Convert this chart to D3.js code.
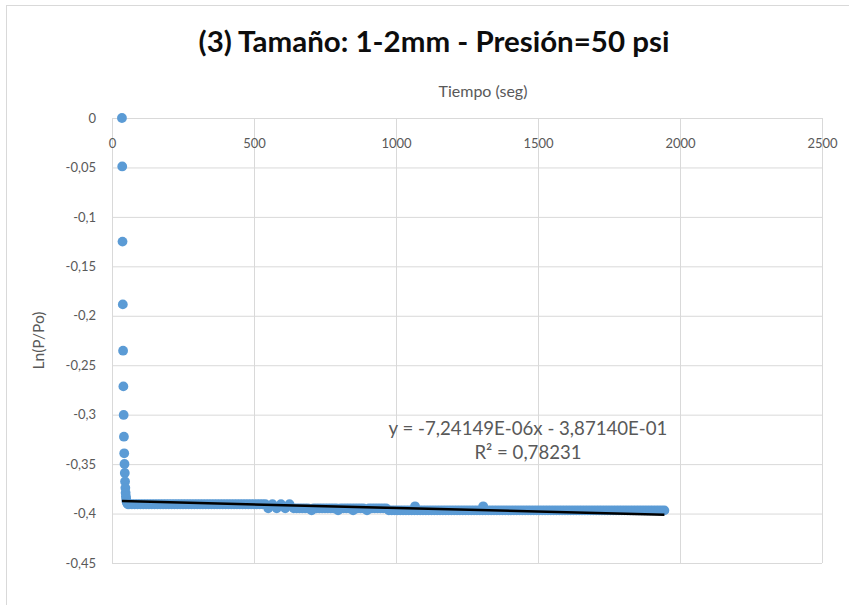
<!DOCTYPE html>
<html>
<head>
<meta charset="utf-8">
<script src="https://cdn.jsdelivr.net/npm/d3@7"></script>
<style>
  html, body { margin: 0; padding: 0; background: #fff; }
  svg { display: block; font-family: Lato, "Open Sans", sans-serif; }
</style>
</head>
<body>
<div id="chart"></div>
<script>
// caída inicial de presión: [tiempo (seg), Ln(P/Po)]
const caida = [
  [35, 0], [36, -0.049], [37, -0.125], [38, -0.1885], [39, -0.2353],
  [40, -0.2714], [41, -0.3003], [42, -0.3223], [43, -0.3391], [44, -0.3499],
  [45, -0.359], [46, -0.3675], [47, -0.374], [48, -0.379], [49, -0.3826],
  [50, -0.3852], [51, -0.3872], [52, -0.3886], [54, -0.3896], [56, -0.3906]
];

// meseta: tiempos (seg) registrados en cada nivel de Ln(P/Po)
const niveles = [-0.3906, -0.3927, -0.3947, -0.3968];
const t3906 = [
  60, 70, 80, 90, 100, 110, 120, 130, 140, 150, 160, 170, 180, 190, 200,
  210, 220, 230, 240, 250, 260, 270, 280, 290, 300, 310, 320, 330, 340, 350,
  360, 370, 380, 390, 400, 410, 420, 430, 440, 450, 460, 470, 480, 490, 500,
  510, 520, 530, 540, 565, 595, 625
];
const t3927 = [1067, 1307];
const t3947 = [
  550, 580, 610, 640, 650, 660, 670, 680, 690, 710, 720, 730, 740, 750, 760,
  770, 780, 790, 805, 815, 825, 835, 845, 855, 865, 875, 885, 905, 915, 925,
  935, 945, 955, 965
];
const t3968 = [
  703, 796, 849, 898, 975, 985, 995, 1005, 1015, 1025, 1035, 1045, 1055, 1065,
  1075, 1085, 1095, 1105, 1115, 1125, 1135, 1145, 1155, 1165, 1175, 1185, 1195,
  1205, 1215, 1225, 1235, 1245, 1255, 1265, 1275, 1285, 1295, 1305, 1315, 1325,
  1335, 1345, 1355, 1365, 1375, 1385, 1395, 1405, 1415, 1425, 1435, 1445, 1455,
  1465, 1475, 1485, 1495, 1505, 1515, 1525, 1535, 1545, 1555, 1565, 1575, 1585,
  1595, 1605, 1615, 1625, 1635, 1645, 1655, 1665, 1675, 1685, 1695, 1705, 1715,
  1725, 1735, 1745, 1755, 1765, 1775, 1785, 1795, 1805, 1815, 1825, 1835, 1845,
  1855, 1865, 1875, 1885, 1895, 1905, 1915, 1925, 1935, 1945
];

const xTicks = [0, 500, 1000, 1500, 2000, 2500];
const yTicks = [0, -0.05, -0.1, -0.15, -0.2, -0.25, -0.3, -0.35, -0.4, -0.45];

// línea de tendencia lineal
const pendiente = -7.24149e-6;
const intercepto = -0.387140;

const titulo = '(3) Tamaño: 1-2mm - Presión=50 psi';
const tituloX = 'Tiempo (seg)';
const tituloY = 'Ln(P/Po)';
const ecuacion = 'y = -7,24149E-06x - 3,87140E-01';
const r2 = 'R² = 0,78231';

const width = 849, height = 605;
const margin = { top: 118, right: 27, bottom: 42, left: 112 };
const innerW = width - margin.left - margin.right;
const innerH = height - margin.top - margin.bottom;

const svg = d3.select('#chart').append('svg')
  .attr('width', width)
  .attr('height', height);

// borde del área del gráfico
svg.append('rect')
  .attr('x', 6.5).attr('y', 5.5)
  .attr('width', 1000).attr('height', 1000)
  .attr('fill', 'none')
  .attr('stroke', '#d9d9d9');

const g = svg.append('g')
  .attr('transform', `translate(${margin.left},${margin.top})`);

const x = d3.scaleLinear().domain([0, 2500]).range([0, innerW]);
const y = d3.scaleLinear().domain([0, -0.45]).range([0, innerH]);

const coma = d => d === 0 ? '0' : String(+d.toFixed(2)).replace('.', ',');

// rejilla horizontal
g.append('g')
  .call(d3.axisLeft(y).tickValues(yTicks).tickSize(-innerW).tickFormat(''))
  .call(s => s.select('.domain').remove())
  .call(s => s.selectAll('line').attr('stroke', '#d9d9d9'));

// rejilla vertical
g.append('g')
  .call(d3.axisTop(x).tickValues(xTicks).tickSize(-innerH).tickFormat(''))
  .call(s => s.select('.domain').remove())
  .call(s => s.selectAll('line').attr('stroke', '#d9d9d9'));

// etiquetas eje Y
g.append('g')
  .call(d3.axisLeft(y).tickValues(yTicks).tickSize(0).tickPadding(16).tickFormat(coma))
  .call(s => s.select('.domain').remove())
  .call(s => s.selectAll('text')
    .attr('fill', '#595959')
    .attr('font-size', 13)
    .attr('font-family', 'Lato, sans-serif'));

// etiquetas eje X (debajo de la línea superior)
g.append('g')
  .call(d3.axisBottom(x).tickValues(xTicks).tickSize(0).tickPadding(21).tickFormat(d3.format('d')))
  .call(s => s.select('.domain').remove())
  .call(s => s.selectAll('text')
    .attr('fill', '#595959')
    .attr('font-size', 13)
    .attr('font-family', 'Lato, sans-serif'));

// puntos
const meseta = [t3906, t3927, t3947, t3968]
  .flatMap((ts, i) => ts.map(t => [t, niveles[i]]));
const puntos = caida.concat(meseta);
g.append('g')
  .selectAll('circle')
  .data(puntos)
  .enter()
  .append('circle')
  .attr('cx', d => x(d[0]))
  .attr('cy', d => y(d[1]))
  .attr('r', 4.9)
  .attr('fill', '#5b9bd5');

// tendencia
const tMin = d3.min(puntos, d => d[0]);
const tMax = d3.max(puntos, d => d[0]);
g.append('line')
  .attr('x1', x(tMin))
  .attr('y1', y(pendiente * tMin + intercepto))
  .attr('x2', x(tMax))
  .attr('y2', y(pendiente * tMax + intercepto))
  .attr('stroke', '#000')
  .attr('stroke-width', 2.5);

function ajustarAncho(sel, ancho) {
  const actual = sel.node().getComputedTextLength();
  const fs = parseFloat(sel.attr('font-size'));
  sel.attr('font-size', (fs * ancho / actual).toFixed(2));
}

// textos
const tTitulo = svg.append('text')
  .attr('x', 434).attr('y', 52)
  .attr('text-anchor', 'middle')
  .attr('font-size', 25)
  .attr('font-weight', 'bold')
  .attr('fill', '#0d0d0d')
  .text(titulo);
ajustarAncho(tTitulo, 471);

const tX = svg.append('text')
  .attr('x', 483).attr('y', 97)
  .attr('text-anchor', 'middle')
  .attr('font-size', 14)
  .attr('fill', '#595959')
  .text(tituloX);
ajustarAncho(tX, 89);

const tY = svg.append('text')
  .attr('transform', `translate(44,${margin.top + innerH / 2}) rotate(-90)`)
  .attr('text-anchor', 'middle')
  .attr('font-size', 14)
  .attr('fill', '#595959')
  .text(tituloY);
ajustarAncho(tY, 58);

const tEc = svg.append('text')
  .attr('x', 528).attr('y', 435)
  .attr('text-anchor', 'middle')
  .attr('font-size', 17)
  .attr('fill', '#595959')
  .text(ecuacion);
ajustarAncho(tEc, 279);

const tR2 = svg.append('text')
  .attr('x', 528).attr('y', 459)
  .attr('text-anchor', 'middle')
  .attr('font-size', 17)
  .attr('fill', '#595959')
  .text(r2);
ajustarAncho(tR2, 107);
</script>
</body>
</html>
